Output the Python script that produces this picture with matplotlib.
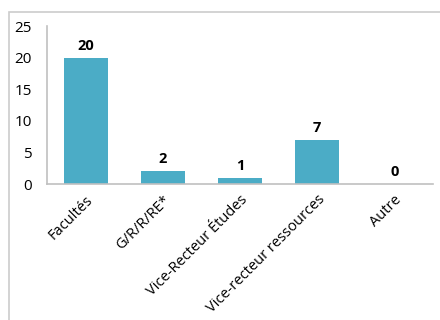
import matplotlib.pyplot as plt
from matplotlib.patches import Rectangle

categories = ["Facultés", "G/R/R/RE*", "Vice-Recteur Études",
              "Vice-recteur ressources", "Autre"]
values = [20, 2, 1, 7, 0]

plt.rcParams["font.family"] = ["Open Sans", "DejaVu Sans"]

fig = plt.figure(figsize=(4.4, 3.2), dpi=100)
W, H = 440, 320

# outer chart frame (cut off on the right and bottom)
fig.patches.append(Rectangle((9 / W, -0.05), 1.0, 1 - 12 / H + 0.05,
                             transform=fig.transFigure, fill=False,
                             edgecolor="#cccccc", linewidth=1.2))

ax = fig.add_axes([47 / W, 1 - 184 / H, (433 - 47) / W, (184 - 26) / H])
x = range(len(categories))
bars = ax.bar(x, values, width=0.57, color="#4bacc6")

for b, v in zip(bars, values):
    ax.text(b.get_x() + b.get_width() / 2, v + 0.8, str(v),
            ha="center", va="bottom", fontsize=10.5, fontweight="bold")

ax.set_xlim(-0.5, len(categories) - 0.5)
ax.set_ylim(0, 25)
ax.set_yticks(range(0, 26, 5))
ax.set_xticks(list(x))
ax.set_xticklabels(categories, rotation=45, ha="right",
                   rotation_mode="anchor", fontsize=10.5)
ax.tick_params(axis="both", length=0)
ax.tick_params(axis="y", pad=11, labelsize=11)
ax.tick_params(axis="x", pad=6)

for s in ["top", "right"]:
    ax.spines[s].set_visible(False)
for s in ["left", "bottom"]:
    ax.spines[s].set_color("#c0c0c0")
    ax.spines[s].set_linewidth(1.2)

fig.savefig("out.png", dpi=100)
